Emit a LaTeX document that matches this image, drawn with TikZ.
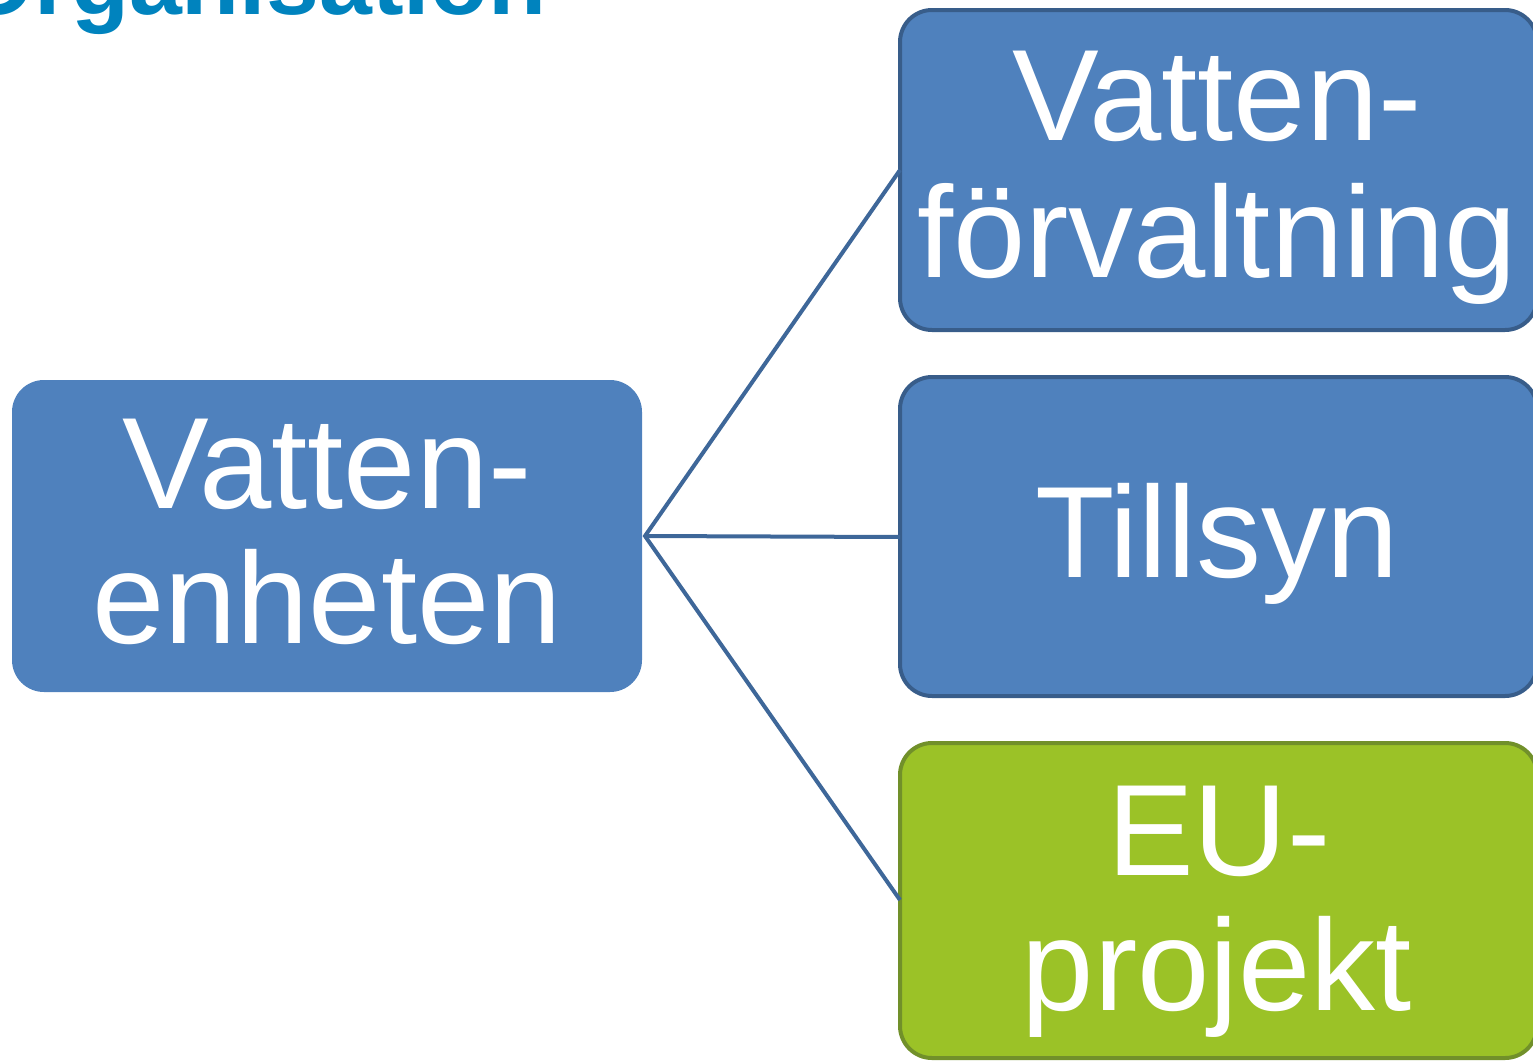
\documentclass[tikz,border=0pt]{standalone}
\usepackage{fontspec}
\setmainfont{Liberation Sans}
\definecolor{boxblue}{HTML}{4F81BD}
\definecolor{boxborder}{HTML}{385D8A}
\definecolor{boxgreen}{HTML}{9BC227}
\definecolor{greenborder}{HTML}{71902A}
\definecolor{linkblue}{HTML}{3E6799}
\definecolor{titleblue}{HTML}{0083BE}
\begin{document}
\begin{tikzpicture}[x=1pt,y=-1pt,
  box/.style={rounded corners=32pt, fill=boxblue, draw=none},
  rbox/.style={rounded corners=32pt, fill=boxblue, draw=boxborder, line width=4pt},
  gbox/.style={rounded corners=32pt, fill=boxgreen, draw=greenborder, line width=4pt},
  txt/.style={text=white, font=\fontsize{130}{136}\selectfont, anchor=base, inner sep=0pt},
  link/.style={draw=linkblue, line width=4pt}]
\useasboundingbox (0,0) rectangle (1533,1060);
\node[font=\bfseries\fontsize{95}{100}\selectfont, text=titleblue, anchor=base west, inner sep=0pt] (title) at (-40,14) {Organisation};
% boxes
\fill[box] (12,380) rectangle (642,692);
\coordinate (L) at (645,536);
\draw[rbox] (900,10) rectangle (1537,330);
\coordinate (R1) at (900,170);
\draw[rbox] (900,377) rectangle (1537,696);
\coordinate (R2) at (900,537);
\draw[gbox] (900,743) rectangle (1537,1058);
\coordinate (R3) at (900,900);
% connectors
\draw[link] (R1) -- (L) -- (R3);
\draw[link] (L) -- (R2);
% texts
\node[txt] (l1) at (327,508) {Vatten-};
\node[txt] (l2) at (327,643) {enheten};
\node[txt] (a1) at (1217,140) {Vatten-};
\node[txt] (a2) at (1217,277) {förvaltning};
\node[txt] (b1) at (1217,577) {Tillsyn};
\node[txt] (c1) at (1219,875) {EU-};
\node[txt] (c2) at (1217,1010) {projekt};
\end{tikzpicture}
\end{document}
